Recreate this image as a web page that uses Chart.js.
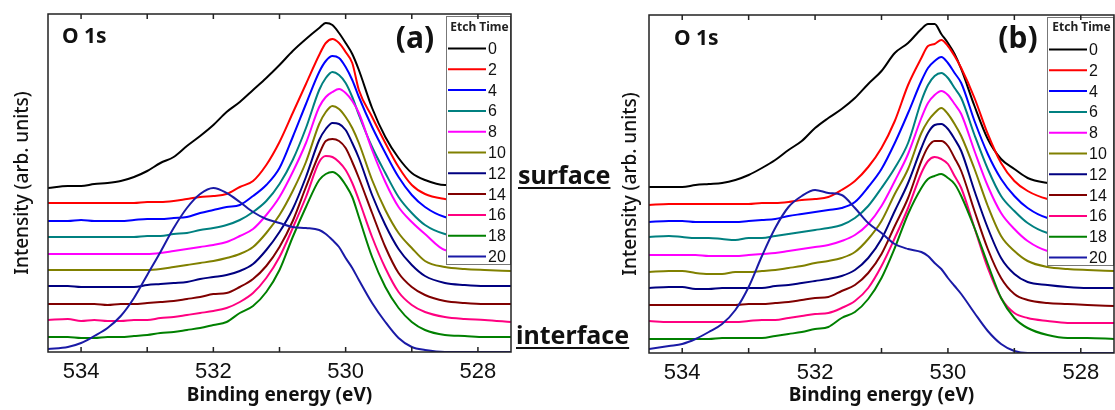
<!DOCTYPE html>
<html>
<head>
<meta charset="utf-8">
<script src="https://cdn.jsdelivr.net/npm/chart.js@4.4.1/dist/chart.umd.min.js"></script>
<style>
body{margin:0;background:#fff;}
#wrap{position:relative;width:1115px;height:410px;}
canvas{position:absolute;top:0;}
#cA{left:0;}
#cB{left:600px;}
</style>
</head>
<body>
<div id="wrap">
<canvas id="cA" width="640" height="410"></canvas>
<canvas id="cB" width="515" height="410"></canvas>
</div>
<script>
// binding energy grid (eV), denser around the main peak
var energy=[534.5,534.2,534.0,533.8,533.6,533.4,533.2,533.0,532.8,532.6,532.4,532.2,532.0,531.8,531.6,531.4,531.2,531.0,530.8,530.6,530.4,530.3,530.2,530.1,530.0,529.9,529.8,529.6,529.4,529.2,529.0,528.8,528.5,528.2,527.9,527.5]

var etchTimes=["0","2","4","6","8","10","12","14","16","18","20"]
var lineColors=["#000000","#ff0000","#0000ff","#008080","#ff00ff","#808000","#000080","#800000","#ff0080","#008000","#1a1aa6"]
var xTickLabels=[534,532,530,528]
var tickMarks=[528,529,530,531,532,533,534]

// panel (a) : intensity (arb. units, stacked)
var a0=[164,166,166,168,169,171,175,181,189,195,206,216,227,240,250,262,274,287,301,313,324,329,327,319,309,298,282,244,215,194,179,172,167,168,166,166]
var a2=[149,149,149,149,149,149,149,150,150,151,153,155,156,158,165,171,187,210,239,268,297,309,313,309,300,289,262,235,209,185,167,158,153,151,150,150]
var a4=[131,131,132,131,131,131,132,133,133,134,135,139,142,145,147,156,167,184,215,248,280,291,296,294,285,272,255,225,199,175,157,145,135,133,132,132]
var a6=[115,115,115,115,115,115,115,116,116,118,119,122,124,127,132,140,151,168,192,224,262,274,280,277,269,255,237,205,179,155,139,127,118,116,116,116]
var a8=[98,98,98,98,98,98,98,98,99,101,103,105,107,110,116,123,137,155,180,209,245,255,260,263,259,251,239,202,170,145,130,118,102,100,100,100]
var a10=[82,82,82,82,82,82,82,82,83,85,87,89,91,94,98,105,119,137,161,190,228,240,246,243,235,224,209,172,142,119,104,91,85,83,82,81]
var a12=[66,66,65,65,65,65,65,67,68,69,70,73,75,77,81,88,102,120,143,175,212,223,229,228,222,209,194,157,127,103,87,76,69,67,66,66]
var a14=[48,48,48,48,47,48,48,49,50,51,53,55,58,59,65,73,86,105,131,165,198,211,213,211,204,190,174,139,105,79,65,57,51,49,48,48]
var a16=[32,33,31,32,31,31,32,32,34,35,37,39,41,44,50,59,74,95,124,155,190,196,195,190,182,169,152,115,84,60,47,40,35,33,32,30]
var a18=[15,15,14,14,15,15,16,17,19,20,22,24,27,30,39,46,60,82,115,145,172,178,180,176,167,155,135,95,65,44,30,22,17,16,15,15]
var a20=[3,5,9,16,24,36,54,77,100,124,144,158,164,159,150,140,133,129,125,124,122,118,112,105,94,84,72,49,30,14,5,2,0,0,0,0]

// panel (b)
var b0=[166,166,166,168,169,170,173,178,185,193,203,212,225,235,244,255,269,282,300,310,324,329,329,319,310,299,284,247,214,194,184,175,170,168,167,167]
var b2=[148,149,149,149,149,149,149,149,150,150,151,153,154,156,163,172,186,205,232,268,295,307,309,313,307,297,285,255,219,190,172,162,154,151,150,150]
var b4=[131,132,132,131,131,131,131,132,133,134,137,139,141,143,145,151,166,184,210,240,272,285,292,296,290,280,270,232,199,174,157,145,135,133,132,132]
var b6=[116,117,116,115,115,114,113,115,115,117,119,121,123,125,128,135,147,165,185,210,252,268,277,280,275,265,255,218,184,157,142,130,120,118,117,117]
var b8=[98,98,98,98,97,97,97,98,99,100,102,104,106,108,112,118,129,147,172,199,235,250,258,262,258,249,239,202,167,140,124,112,102,100,99,99]
var b10=[81,82,82,80,79,79,81,81,82,83,85,87,90,92,95,101,114,132,159,184,220,232,240,245,239,229,217,184,147,117,102,92,86,84,83,82]
var b12=[65,66,66,64,64,65,65,65,65,67,68,70,72,74,77,83,95,114,142,170,205,220,228,229,224,214,202,162,125,95,79,71,68,66,65,65]
var b14=[48,48,48,48,48,48,48,49,49,50,51,53,55,56,62,68,80,99,127,155,192,206,212,212,207,195,182,142,104,75,59,53,50,49,48,47]
var b16=[32,31,31,31,31,31,31,32,33,33,35,37,39,40,45,52,65,87,115,145,180,192,196,194,189,177,165,125,85,55,40,35,32,30,30,30]
var b18=[14,14,14,14,14,15,15,15,15,17,19,21,24,26,35,41,54,75,105,139,165,174,177,179,175,169,157,125,89,55,35,25,18,15,15,14]
var b20=[4,7,9,14,21,29,43,66,97,125,146,157,163,160,158,145,130,120,109,104,101,97,90,84,75,67,59,40,22,9,2,0,0,0,0,0]

var seriesA=[a0,a2,a4,a6,a8,a10,a12,a14,a16,a18,a20]
var seriesB=[b0,b2,b4,b6,b8,b10,b12,b14,b16,b18,b20]

const panelDeco = {   // cadre, ticks vers l'interieur, legende et textes
    id: 'panelDeco',
    afterDatasetsDraw: (chart, args, o) => {
        const {ctx, chartArea: a} = chart
        const x = chart.scales.x
        ctx.save()

        // legende
        const lx = a.right - o.legendW, ly = o.legendTop, lh = o.legendBottom - o.legendTop
        ctx.fillStyle = '#fff'
        ctx.fillRect(lx, ly, o.legendW, lh)
        ctx.strokeStyle = '#777'
        ctx.lineWidth = 1
        ctx.strokeRect(lx + 0.5, ly + 0.5, o.legendW - 1, lh - 1)
        ctx.fillStyle = '#222'
        ctx.font = 'bold 12px "Noto Sans"'
        ctx.textAlign = 'center'
        ctx.textBaseline = 'middle'
        ctx.fillText('Etch Time', lx + o.legendW / 2 + 1, 28)
        chart.data.datasets.forEach((ds, i) => {
            const y = o.rowTop + i * 20.8
            ctx.strokeStyle = ds.borderColor
            ctx.lineWidth = 2
            ctx.beginPath()
            ctx.moveTo(lx + 2, y)
            ctx.lineTo(lx + 40, y)
            ctx.stroke()
            ctx.fillStyle = '#111'
            ctx.font = '16px "Liberation Sans"'
            ctx.textAlign = 'left'
            ctx.fillText(ds.label, lx + 42, y + 1)
        })

        // cadre
        ctx.strokeStyle = '#222'
        ctx.lineWidth = 1.5
        ctx.strokeRect(a.left, a.top, a.right - a.left, a.bottom - a.top)
        tickMarks.forEach(v => {
            const px = x.getPixelForValue(v)
            ctx.beginPath()
            ctx.moveTo(px, a.bottom); ctx.lineTo(px, a.bottom - 5)
            ctx.moveTo(px, a.top); ctx.lineTo(px, a.top + 5)
            ctx.stroke()
        })

        // textes
        ctx.fillStyle = '#111'
        ctx.textAlign = 'left'
        ctx.font = 'bold 21px "Noto Sans"'
        ctx.fillText('O 1s', a.left + o.o1sX, o.o1sY)
        ctx.textAlign = 'center'
        ctx.font = 'bold 30px "Noto Sans"'
        ctx.fillText(o.tag, a.right - 96, 39)

        if (o.sideNotes) {
            ctx.textAlign = 'left'
            ctx.textBaseline = 'alphabetic'
            ctx.font = 'bold 25px "Noto Sans"'
            ctx.lineWidth = 2
            ctx.strokeStyle = '#111'
            ;[['surface', 518, 184], ['interface', 516, 344]].forEach(t => {
                ctx.fillText(t[0], t[1], t[2])
                const w = ctx.measureText(t[0]).width
                ctx.beginPath()
                ctx.moveTo(t[1], t[2] + 4); ctx.lineTo(t[1] + w, t[2] + 4)
                ctx.stroke()
            })
        }
        ctx.restore()
    }
}

function makeChart(id, series, deco){
    return new Chart(document.getElementById(id), {
        type: 'line',
        data: {
            datasets: series.map((s, i) => ({
                label: etchTimes[i],
                data: energy.map((e, j) => ({x: e, y: s[j]})),
                borderColor: lineColors[i],
                borderWidth: 2,
                pointRadius: 0,
                cubicInterpolationMode: 'monotone',
                fill: false,
                order: series.length - i
            }))
        },
        options: {
            responsive: false,
            animation: false,
            events: [],
            layout: {padding: deco.padding},
            plugins: {
                legend: {display: false},
                tooltip: {enabled: false},
                panelDeco: deco
            },
            scales: {
                x: {
                    type: 'linear', reverse: true, min: 527.5, max: 534.5,
                    grid: {display: false, drawTicks: false},
                    border: {display: false},
                    afterBuildTicks: s => { s.ticks = xTickLabels.map(v => ({value: v})) },
                    ticks: {font: {family: 'Liberation Sans', size: 22}, color: '#111', padding: 7, maxRotation: 0, autoSkip: false},
                    title: {display: true, text: 'Binding energy (eV)', color: '#111',
                        font: {family: 'Noto Sans', size: 19, weight: 'bold'}, padding: {top: 0, bottom: 3}},
                    afterFit: s => { s.height = deco.xHeight }
                },
                y: {
                    min: 0, max: 338,
                    grid: {display: false, drawTicks: false},
                    border: {display: false},
                    ticks: {display: false},
                    title: {display: true, text: 'Intensity (arb. units)', color: '#111',
                        font: {family: 'Noto Sans', size: 19, weight: '500'}, padding: {top: deco.yTitlePad, bottom: 0}},
                    afterFit: s => { s.width = deco.yWidth }
                }
            }
        },
        plugins: [panelDeco]
    })
}

var chartA = makeChart('cA', seriesA, {
    padding: {left: 0, right: 129, top: 14, bottom: 0}, xHeight: 58, yWidth: 48, yTitlePad: 11,
    legendW: 65, legendTop: 16, legendBottom: 265, rowTop: 48.5,
    o1sX: 14, o1sY: 37, tag: '(a)', sideNotes: true
})
var chartB = makeChart('cB', seriesB, {
    padding: {left: 0, right: 1, top: 15, bottom: 0}, xHeight: 57, yWidth: 49, yTitlePad: 19.6,
    legendW: 67, legendTop: 17, legendBottom: 266, rowTop: 49.5,
    o1sX: 25, o1sY: 39, tag: '(b)', sideNotes: false
})
</script>
</body>
</html>
